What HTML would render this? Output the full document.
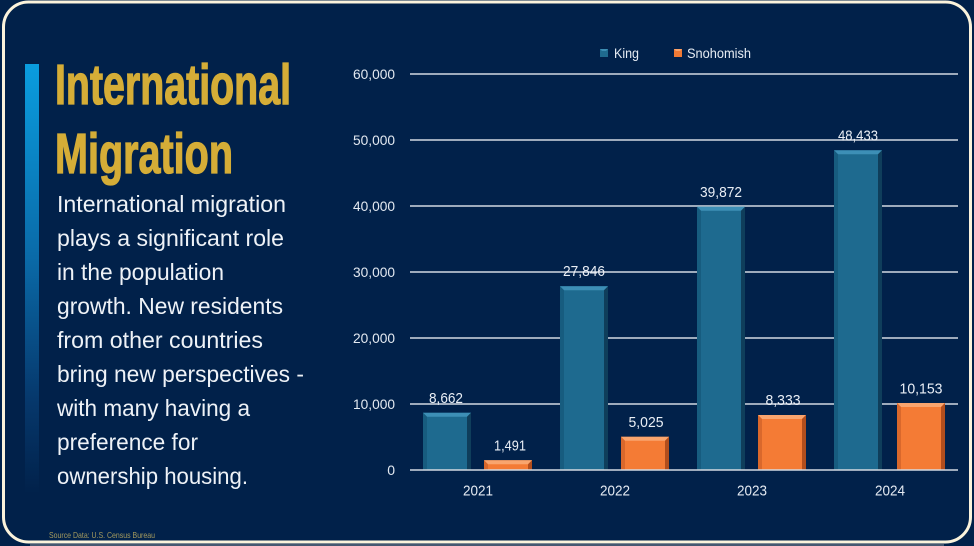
<!DOCTYPE html>
<html>
<head>
<meta charset="utf-8">
<style>
  html,body{margin:0;padding:0;background:#01214a;}
  body{width:974px;height:546px;overflow:hidden;position:relative;}
  svg{position:absolute;left:0;top:0;display:block;}
  text{font-family:"Liberation Sans",sans-serif;}
</style>
</head>
<body>
<svg width="974" height="546" viewBox="0 0 974 546" xmlns="http://www.w3.org/2000/svg">
  <defs>
    <linearGradient id="accent" x1="0" y1="0" x2="0" y2="1">
      <stop offset="0" stop-color="#0a9ddf"/>
      <stop offset="0.45" stop-color="#0a6aa8"/>
      <stop offset="0.78" stop-color="#06386c"/>
      <stop offset="1" stop-color="#01214a"/>
    </linearGradient>
  </defs>
  <rect x="0" y="0" width="974" height="546" fill="#01214a"/>
  <rect x="3.5" y="2" width="967" height="540" rx="25" ry="25" fill="#01214a" stroke="#fbf3dc" stroke-width="3"/>
  <line x1="30" y1="545" x2="944" y2="545" stroke="#8a8f98" stroke-width="1"/>

  <!-- accent bar -->
  <rect x="25" y="64" width="14" height="430" fill="url(#accent)"/>

  <!-- title -->
  <text x="55" y="104" font-size="57" font-weight="bold" fill="#d5ad37" stroke="#d5ad37" stroke-width="1.3" textLength="236" lengthAdjust="spacingAndGlyphs">International</text>
  <text x="55" y="173" font-size="57" font-weight="bold" fill="#d5ad37" stroke="#d5ad37" stroke-width="1.3" textLength="178" lengthAdjust="spacingAndGlyphs">Migration</text>

  <!-- body -->
  <g font-size="23.5" fill="#eef2f7">
    <text x="57" y="212" textLength="229" lengthAdjust="spacingAndGlyphs">International migration</text>
    <text x="57" y="246" textLength="227" lengthAdjust="spacingAndGlyphs">plays a significant role</text>
    <text x="57" y="280" textLength="167" lengthAdjust="spacingAndGlyphs">in the population</text>
    <text x="57" y="314" textLength="226" lengthAdjust="spacingAndGlyphs">growth. New residents</text>
    <text x="57" y="348" textLength="206" lengthAdjust="spacingAndGlyphs">from other countries</text>
    <text x="57" y="382" textLength="247" lengthAdjust="spacingAndGlyphs">bring new perspectives -</text>
    <text x="57" y="416" textLength="193" lengthAdjust="spacingAndGlyphs">with many having a</text>
    <text x="57" y="450" textLength="141" lengthAdjust="spacingAndGlyphs">preference for</text>
    <text x="57" y="484" textLength="191" lengthAdjust="spacingAndGlyphs">ownership housing.</text>
  </g>

  <!-- source -->
  <text x="49" y="538" font-size="8.5" fill="#a59b5e" textLength="106" lengthAdjust="spacingAndGlyphs">Source Data: U.S. Census Bureau</text>

  <!-- legend -->
  <rect x="600" y="49" width="8" height="8" fill="#1f6a8e"/>
  <polygon points="600,49 608,49 606,51 602,51" fill="#3d8db3"/>
  <text x="614" y="58" font-size="14" fill="#e6ecf3" textLength="25" lengthAdjust="spacingAndGlyphs">King</text>
  <rect x="674" y="49" width="8" height="8" fill="#f07a35"/>
  <polygon points="674,49 682,49 680,51 676,51" fill="#f9a46d"/>
  <text x="687" y="58" font-size="14" fill="#e6ecf3" textLength="64" lengthAdjust="spacingAndGlyphs">Snohomish</text>

  <!-- gridlines -->
  <g stroke="#d3d9e1" stroke-width="1.4">
    <line x1="410" y1="74" x2="958" y2="74"/>
    <line x1="410" y1="140" x2="958" y2="140"/>
    <line x1="410" y1="206" x2="958" y2="206"/>
    <line x1="410" y1="272" x2="958" y2="272"/>
    <line x1="410" y1="338" x2="958" y2="338"/>
    <line x1="410" y1="404" x2="958" y2="404"/>
  </g>

  <!-- y labels -->
  <g font-size="14" fill="#e3e9f1" text-anchor="end">
    <text x="395" y="79" textLength="42" lengthAdjust="spacingAndGlyphs">60,000</text>
    <text x="395" y="145" textLength="42" lengthAdjust="spacingAndGlyphs">50,000</text>
    <text x="395" y="211" textLength="42" lengthAdjust="spacingAndGlyphs">40,000</text>
    <text x="395" y="277" textLength="42" lengthAdjust="spacingAndGlyphs">30,000</text>
    <text x="395" y="343" textLength="42" lengthAdjust="spacingAndGlyphs">20,000</text>
    <text x="395" y="409" textLength="42" lengthAdjust="spacingAndGlyphs">10,000</text>
    <text x="395" y="475">0</text>
  </g>

  <!-- King bars -->
  <g>
    <rect x="423" y="412.8" width="48" height="57.2" fill="#1e6a8f"/>
    <polygon points="423,412.8 471,412.8 467,416.8 427,416.8" fill="#3d8fb6"/>
    <polygon points="423,412.8 427,416.8 427,470 423,470" fill="#175c7f"/>
    <polygon points="471,412.8 467,416.8 467,470 471,470" fill="#0f3e5b"/>

    <rect x="560" y="286.2" width="48" height="183.8" fill="#1e6a8f"/>
    <polygon points="560,286.2 608,286.2 604,290.2 564,290.2" fill="#3d8fb6"/>
    <polygon points="560,286.2 564,290.2 564,470 560,470" fill="#175c7f"/>
    <polygon points="608,286.2 604,290.2 604,470 608,470" fill="#0f3e5b"/>

    <rect x="697" y="206.8" width="48" height="263.2" fill="#1e6a8f"/>
    <polygon points="697,206.8 745,206.8 741,210.8 701,210.8" fill="#3d8fb6"/>
    <polygon points="697,206.8 701,210.8 701,470 697,470" fill="#175c7f"/>
    <polygon points="745,206.8 741,210.8 741,470 745,470" fill="#0f3e5b"/>

    <rect x="834" y="150.3" width="48" height="319.7" fill="#1e6a8f"/>
    <polygon points="834,150.3 882,150.3 878,154.3 838,154.3" fill="#3d8fb6"/>
    <polygon points="834,150.3 838,154.3 838,470 834,470" fill="#175c7f"/>
    <polygon points="882,150.3 878,154.3 878,470 882,470" fill="#0f3e5b"/>
  </g>

  <!-- Snohomish bars -->
  <g>
    <rect x="484" y="460.2" width="48" height="9.8" fill="#f47b35"/>
    <polygon points="484,460.2 532,460.2 528,464.2 488,464.2" fill="#f9a56e"/>
    <polygon points="484,460.2 488,464.2 488,470 484,470" fill="#d9682c"/>
    <polygon points="532,460.2 528,464.2 528,470 532,470" fill="#b24e1d"/>

    <rect x="621" y="436.8" width="48" height="33.2" fill="#f47b35"/>
    <polygon points="621,436.8 669,436.8 665,440.8 625,440.8" fill="#f9a56e"/>
    <polygon points="621,436.8 625,440.8 625,470 621,470" fill="#d9682c"/>
    <polygon points="669,436.8 665,440.8 665,470 669,470" fill="#b24e1d"/>

    <rect x="758" y="415" width="48" height="55" fill="#f47b35"/>
    <polygon points="758,415 806,415 802,419 762,419" fill="#f9a56e"/>
    <polygon points="758,415 762,419 762,470 758,470" fill="#d9682c"/>
    <polygon points="806,415 802,419 802,470 806,470" fill="#b24e1d"/>

    <rect x="897" y="403" width="48" height="67" fill="#f47b35"/>
    <polygon points="897,403 945,403 941,407 901,407" fill="#f9a56e"/>
    <polygon points="897,403 901,407 901,470 897,470" fill="#d9682c"/>
    <polygon points="945,403 941,407 941,470 945,470" fill="#b24e1d"/>
  </g>

  <!-- baseline -->
  <line x1="410" y1="470" x2="958" y2="470" stroke="#d3d9e1" stroke-width="1.4"/>

  <!-- data labels -->
  <g font-size="15" fill="#e9eef5" text-anchor="middle">
    <text x="446" y="403" textLength="34" lengthAdjust="spacingAndGlyphs">8,662</text>
    <text x="584" y="276" textLength="42" lengthAdjust="spacingAndGlyphs">27,846</text>
    <text x="721" y="197" textLength="42" lengthAdjust="spacingAndGlyphs">39,872</text>
    <text x="858" y="140.5" textLength="40" lengthAdjust="spacingAndGlyphs">48,433</text>
    <text x="510" y="450.5" textLength="32" lengthAdjust="spacingAndGlyphs">1,491</text>
    <text x="646" y="427" textLength="35" lengthAdjust="spacingAndGlyphs">5,025</text>
    <text x="783" y="405" textLength="35" lengthAdjust="spacingAndGlyphs">8,333</text>
    <text x="921" y="393.5" textLength="43" lengthAdjust="spacingAndGlyphs">10,153</text>
  </g>

  <!-- category labels -->
  <g font-size="15" fill="#e3e9f1" text-anchor="middle">
    <text x="478" y="495.5" textLength="30" lengthAdjust="spacingAndGlyphs">2021</text>
    <text x="615" y="495.5" textLength="30" lengthAdjust="spacingAndGlyphs">2022</text>
    <text x="752" y="495.5" textLength="30" lengthAdjust="spacingAndGlyphs">2023</text>
    <text x="890" y="495.5" textLength="30" lengthAdjust="spacingAndGlyphs">2024</text>
  </g>
</svg>
</body>
</html>
